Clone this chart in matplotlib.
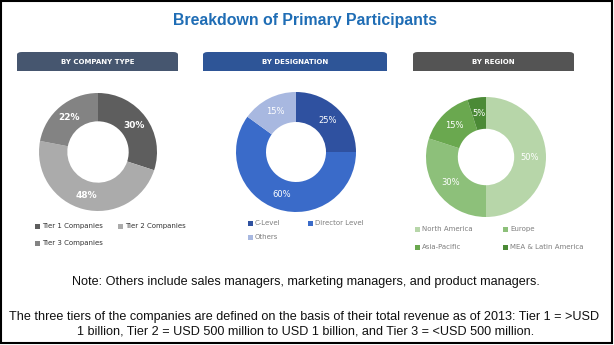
import matplotlib.pyplot as plt
from matplotlib.patches import Rectangle, FancyBboxPatch

# data
company_types = ['Tier 1 Companies', 'Tier 2 Companies', 'Tier 3 Companies']
company_share = [30, 48, 22]
designations = ['C-Level', 'Director Level', 'Others']
designation_share = [25, 60, 15]
regions = ['North America', 'Europe', 'Asia-Pacific', 'MEA & Latin America']
region_share = [50, 30, 15, 5]

tab_titles = ['BY COMPANY TYPE', 'BY DESIGNATION', 'BY REGION']
title = 'Breakdown of Primary Participants'
note1 = 'Note: Others include sales managers, marketing managers, and product managers.'
note2 = 'The three tiers of the companies are defined on the basis of their total revenue as of 2013: Tier 1 = >USD'
note3 = '1 billion, Tier 2 = USD 500 million to USD 1 billion, and Tier 3 = <USD 500 million.'

W, H = 614, 345
fig = plt.figure(figsize=(W / 100, H / 100), dpi=100)
renderer = fig.canvas.get_renderer()

def fx(x):
    return x / W

def fy(y):
    return 1 - y / H

def fit_text(t, target_px):
    # shrink/grow a text so that it spans target_px pixels
    w = t.get_window_extent(renderer).width
    t.set_fontsize(t.get_fontsize() * target_px / w)

# outer border
fig.patches.append(Rectangle((fx(1), fy(343)), fx(611), 342 / H, transform=fig.transFigure,
                             fill=False, edgecolor='black', linewidth=1.5))

t = fig.text(fx(305), fy(20), title, ha='center', va='center', fontsize=11.5, fontweight='bold',
             color='#1f6db5', family='Liberation Sans')
fit_text(t, 266)

# header tabs
tabs = [(17, 178, '#46566f'), (203, 387, '#2e5597'), (413, 574, '#545454')]
for (x0, x1, col), txt in zip(tabs, tab_titles):
    fig.patches.append(FancyBboxPatch((fx(x0), fy(71)), fx(x1 - x0), 19 / H,
                                      boxstyle='round,pad=0,rounding_size=0.008',
                                      transform=fig.transFigure, facecolor=col, edgecolor='none'))
    fig.patches.append(Rectangle((fx(x0), fy(71)), fx(x1 - x0), 9 / H, transform=fig.transFigure,
                                 facecolor=col, edgecolor='none'))
    fig.text(fx((x0 + x1) / 2), fy(61.5), txt, ha='center', va='center', fontsize=5,
             fontweight='bold', color='white')


def donut(cx, cy, r, inner, values, colors, lblfont):
    ax = fig.add_axes([fx(cx - r), fy(cy + r), 2 * r / W, 2 * r / H])
    ax.pie(values, colors=colors, startangle=90, counterclock=False,
           wedgeprops=dict(width=1 - inner, edgecolor='none'),
           autopct='%d%%', pctdistance=(1 + inner) / 2,
           textprops=dict(color='white', **lblfont))
    ax.set_xlim(-1, 1)
    ax.set_ylim(-1, 1)
    return ax


def legend(entries, colors, xs, ys, tcol):
    for i, (lab, col) in enumerate(zip(entries, colors)):
        x = xs[i % 2]
        y = ys[i // 2]
        fig.patches.append(Rectangle((fx(x - 2.5), fy(y + 2.5)), 5 / W, 5 / H,
                                     transform=fig.transFigure, facecolor=col, edgecolor='none'))
        fig.text(fx(x + 5), fy(y), lab, ha='left', va='center', fontsize=5, color=tcol)


c1 = ['#5e5e5e', '#ababab', '#838383']
donut(98, 152, 59, 0.52, company_share, c1, dict(fontsize=6.5, fontweight='bold'))
legend(company_types, c1, [37, 120], [226, 243], '#333333')

c2 = ['#2f51a0', '#3a6bc9', '#a8b8e0']
donut(296, 152, 60, 0.5, designation_share, c2, dict(fontsize=6))
legend(designations, c2, [250, 310], [223, 237], '#7f7f7f')

c3 = ['#b7d6a9', '#8dc07a', '#6aa84f', '#4b8a36']
donut(486, 157, 60, 0.47, region_share, c3, dict(fontsize=6))
legend(regions, c3, [417, 505], [229, 247], '#7f7f7f')

t1 = fig.text(fx(306), fy(282), note1, ha='center', va='center', fontsize=9,
              family='Liberation Sans', color='#111111')
t2 = fig.text(fx(304.5), fy(317), note2, ha='center', va='center', fontsize=9,
              family='Liberation Sans', color='#111111')
t3 = fig.text(fx(305.5), fy(332), note3, ha='center', va='center', fontsize=9,
              family='Liberation Sans', color='#111111')
fit_text(t2, 592)
t1.set_fontsize(t2.get_fontsize())
t3.set_fontsize(t2.get_fontsize())

fig.savefig('out.png', dpi=100)
